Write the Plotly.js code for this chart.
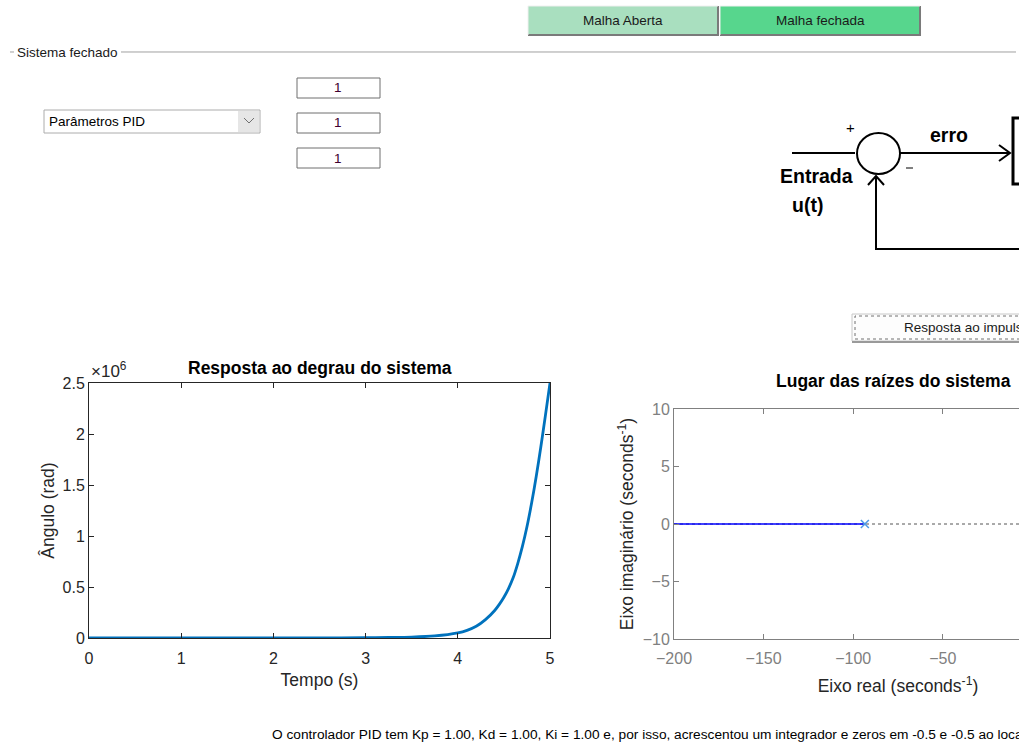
<!DOCTYPE html>
<html>
<head>
<meta charset="utf-8">
<script src="https://cdn.plot.ly/plotly-3.0.1.min.js"></script>
<style>
html,body{margin:0;padding:0;overflow:hidden;background:#fff;width:1019px;height:742px;}
#plot{width:1200px;height:742px;}
</style>
</head>
<body>
<div id="plot"></div>
<script>
// ---------- data ----------
const stepTime  = [0, 0.5, 1, 1.5, 2, 2.5, 3, 3.25, 3.5, 3.75, 4, 4.1, 4.2, 4.3, 4.4, 4.45, 4.5, 4.55, 4.6, 4.65, 4.7, 4.75, 4.8, 4.85, 4.9, 4.95, 5];
const stepAngle = [0, 0, 0, 100, 300, 900, 2500, 5000, 9000, 20000, 50000, 75000, 115000, 180000, 270000, 330000, 400000, 485000, 590000, 730000, 895000, 1090000, 1320000, 1580000, 1870000, 2180000, 2500000];
const timeTicks = [0, 1, 2, 3, 4, 5];
const angleTickVals = [0, 500000, 1000000, 1500000, 2000000, 2500000];
const angleTickText = ['0', '0.5', '1', '1.5', '2', '2.5'];

const locusReal = [-200, -93.5];
const locusImag = [0, 0];
const poleReal = [-93.5];
const poleImag = [0];
const realAxisX = [-200, 50];
const realAxisY = [0, 0];
const realTicks = [-200, -150, -100, -50, 0, 50];
const imagTicks = [-10, -5, 0, 5, 10];

const pidLabels = ['1', '1', '1'];

// ---------- helpers (pixel -> paper) ----------
const W = 1200, H = 742;
const X = v => v / W;
const Y = v => 1 - v / H;
const P = pts => pts.map((p, i) => (i ? 'L' : 'M') + X(p[0]).toFixed(5) + ',' + Y(p[1]).toFixed(5)).join(' ');
const FONT = 'Liberation Sans, Arial, sans-serif';
const DARK = '#262626';
const GRAY = '#808080';

function rect(x0, y0, x1, y1, fill, line, lw, dash) {
  return {type: 'rect', xref: 'paper', yref: 'paper', x0: X(x0), x1: X(x1), y0: Y(y1), y1: Y(y0),
    fillcolor: fill || 'rgba(0,0,0,0)', line: {color: line || 'rgba(0,0,0,0)', width: lw === undefined ? 1 : lw, dash: dash || 'solid'}, layer: 'above'};
}
function seg(pts, color, lw, dash) {
  return {type: 'path', xref: 'paper', yref: 'paper', path: P(pts), line: {color: color, width: lw, dash: dash || 'solid'}, layer: 'above'};
}
function txt(text, x, y, size, opts) {
  opts = opts || {};
  return {text: text, xref: 'paper', yref: 'paper', x: X(x), y: Y(y), showarrow: false,
    xanchor: opts.xa || 'center', yanchor: opts.ya || 'middle',
    font: {family: opts.family || FONT, size: size, color: opts.color || '#000'}};
}

// ---------- traces ----------
const traces = [
  {x: stepTime, y: stepAngle, type: 'scatter', mode: 'lines', line: {color: '#0072BD', width: 2.8, shape: 'spline', smoothing: 0.8}, xaxis: 'x', yaxis: 'y', hoverinfo: 'skip'},
  {x: realAxisX, y: realAxisY, type: 'scatter', mode: 'lines', line: {color: '#555555', width: 1, dash: 'dot'}, xaxis: 'x2', yaxis: 'y2', hoverinfo: 'skip'},
  {x: locusReal, y: locusImag, type: 'scatter', mode: 'lines', line: {color: '#0000ff', width: 1.5}, xaxis: 'x2', yaxis: 'y2', hoverinfo: 'skip'},
  {x: poleReal, y: poleImag, type: 'scatter', mode: 'markers', marker: {symbol: 'x-thin', size: 8, line: {color: '#4d9be6', width: 1.5}, color: '#4d9be6'}, xaxis: 'x2', yaxis: 'y2', hoverinfo: 'skip'}
];

// ---------- shapes ----------
const shapes = [
  // top buttons
  rect(528, 6, 718, 35, '#a9dfbf'),
  seg([[528, 35], [718, 35], [718, 6]], '#7a7a7a', 2),
  seg([[528, 35], [528, 6], [718, 6]], '#f0f0f0', 1),
  rect(720, 6, 920, 35, '#57d68d'),
  seg([[720, 35], [920, 35], [920, 6]], '#7a7a7a', 2),
  seg([[720, 35], [720, 6], [920, 6]], '#f0f0f0', 1),
  // panel line
  seg([[10, 52], [14, 52]], '#a0a0a0', 1),
  seg([[121, 52], [1016, 52]], '#a0a0a0', 1),
  // dropdown
  rect(44, 110, 260, 133, '#ffffff', '#acacac', 1),
  rect(238, 111, 259, 132, '#e6e6e6', null, 0),
  seg([[244, 118], [249, 123], [254, 118]], '#707070', 1),
  // PID edit boxes
  rect(297, 78, 380, 98, '#ffffff', '#6e6e6e', 1),
  rect(297, 113, 380, 133, '#ffffff', '#6e6e6e', 1),
  rect(297, 148, 380, 168, '#ffffff', '#6e6e6e', 1),
  // block diagram
  seg([[792, 153], [855, 153]], '#000', 2),
  {type: 'circle', xref: 'paper', yref: 'paper', x0: X(857), x1: X(900), y0: Y(174), y1: Y(133), line: {color: '#000', width: 2}, layer: 'above'},
  seg([[900, 153], [1010, 153]], '#000', 2),
  seg([[999, 145], [1010, 153], [999, 161]], '#000', 2),
  seg([[906, 168], [913, 168]], '#000', 1),
  rect(1013, 118, 1120, 184, null, '#000', 3),
  seg([[876, 176], [876, 249], [1120, 249]], '#000', 2),
  seg([[868, 185], [876, 176], [884, 185]], '#000', 2),
  // Resposta ao impulso button
  rect(852, 314, 1120, 341, '#fdfdfd', '#c8c8c8', 1),
  rect(855, 316, 1120, 339, null, '#707070', 1, 'dot'),
  seg([[852, 342], [1120, 342]], '#9a9a9a', 2)
];

// ---------- annotations ----------
const annotations = [
  txt('Malha Aberta', 623, 21, 13.5, {color: '#1a1a1a'}),
  txt('Malha fechada', 820, 21, 13.5, {color: '#1a1a1a'}),
  txt('Sistema fechado', 15, 53, 13.5, {xa: 'left', color: '#1a1a1a'}),
  txt('Parâmetros PID', 47, 121, 13.5, {xa: 'left'}),
  txt(pidLabels[0], 338, 88, 13.5, {color: '#400030'}),
  txt(pidLabels[1], 338, 123, 13.5, {color: '#400030'}),
  txt(pidLabels[2], 338, 158, 13.5, {color: '#400030'}),
  txt('+', 851, 127, 15),
  txt('<b>erro</b>', 949, 135, 19.5),
  txt('<b>Entrada</b>', 816, 176, 19.5),
  txt('<b>u(t)</b>', 807, 205, 19.5),
  txt('Resposta ao impulso', 902, 327, 13.5, {xa: 'left', color: '#1a1a1a'}),
  txt('<b>Resposta ao degrau do sistema</b>', 320, 368, 17.5, {color: '#000'}),
  txt('<b>Lugar das raízes do sistema</b>', 893, 381, 17.5, {color: '#000'}),
  txt('×10<sup>6</sup>', 89, 383, 17, {xa: 'left', ya: 'bottom', color: DARK}),
  txt('O controlador PID tem Kp = 1.00, Kd = 1.00, Ki = 1.00 e, por isso, acrescentou um integrador e zeros em -0.5 e -0.5 ao local das raízes.', 270, 734, 13.7, {xa: 'left'})
];

// ---------- layout ----------
const axBase = {showgrid: false, zeroline: false, showline: true, mirror: 'ticks', ticks: 'inside', ticklen: 5, tickwidth: 1, fixedrange: true};

const layout = {
  width: W, height: H,
  margin: {l: 0, r: 0, t: 0, b: 0},
  paper_bgcolor: '#ffffff', plot_bgcolor: '#ffffff',
  showlegend: false,
  hovermode: false,
  font: {family: FONT},
  xaxis: Object.assign({}, axBase, {
    domain: [X(89), X(550)], anchor: 'y', range: [0, 5], tickvals: timeTicks, ticklabelstandoff: 6,
    linecolor: DARK, tickcolor: DARK, tickfont: {size: 16, color: DARK},
    title: {text: 'Tempo (s)', font: {size: 17.5, color: DARK}, standoff: 7}
  }),
  yaxis: Object.assign({}, axBase, {
    domain: [Y(638), Y(383)], anchor: 'x', range: [0, 2500000], tickvals: angleTickVals, ticktext: angleTickText,
    linecolor: DARK, tickcolor: DARK, tickfont: {size: 16, color: DARK},
    title: {text: 'Ângulo (rad)', font: {size: 17.5, color: DARK}, standoff: 3}
  }),
  xaxis2: Object.assign({}, axBase, {
    domain: [X(674), X(1122)], anchor: 'y2', range: [-200, 50], tickvals: realTicks, ticklabelstandoff: 5,
    linecolor: GRAY, tickcolor: GRAY, tickfont: {size: 16, color: GRAY},
    title: {text: 'Eixo real (seconds<sup>-1</sup>)', font: {size: 17.5, color: DARK}, standoff: 13}
  }),
  yaxis2: Object.assign({}, axBase, {
    domain: [Y(639), Y(409)], anchor: 'x2', range: [-10, 10], tickvals: imagTicks,
    linecolor: GRAY, tickcolor: GRAY, tickfont: {size: 16, color: GRAY},
    title: {text: 'Eixo imaginário (seconds<sup>-1</sup>)', font: {size: 17.5, color: DARK}, standoff: 4}
  }),
  shapes: shapes,
  annotations: annotations
};

Plotly.newPlot('plot', traces, layout, {displayModeBar: false, staticPlot: true});
</script>
</body>
</html>
